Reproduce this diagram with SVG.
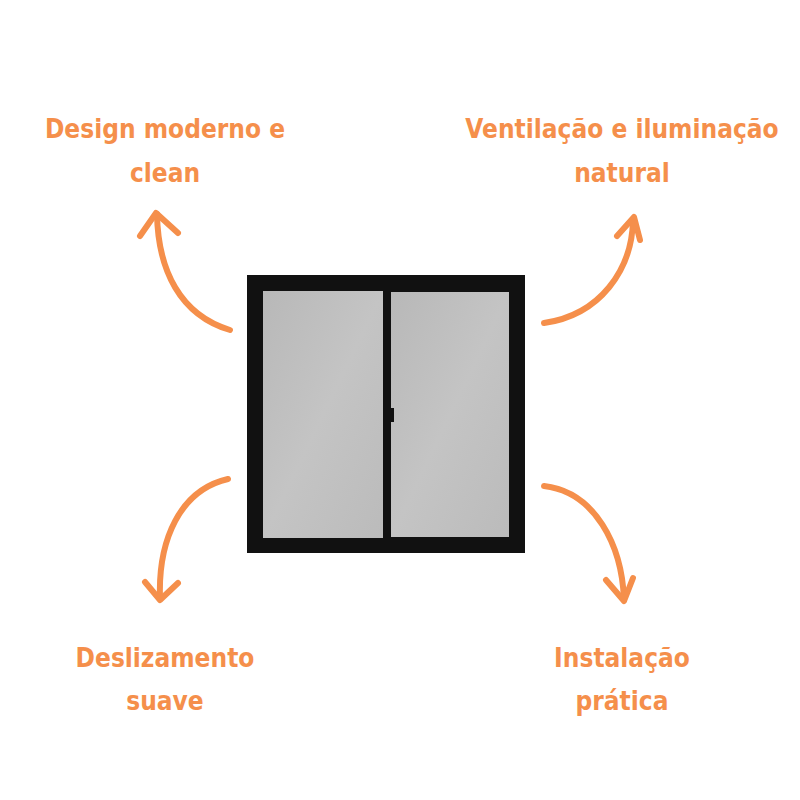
<svg xmlns="http://www.w3.org/2000/svg" width="800" height="800" viewBox="0 0 800 800">
<defs>
<style>
.t{font-family:"DejaVu Sans Condensed","DejaVu Sans",sans-serif;font-weight:bold;font-stretch:condensed;font-size:26px;fill:#F58F4B;text-anchor:middle}
.a{fill:none;stroke:#F58F4B;stroke-width:6;stroke-linecap:round;stroke-linejoin:round}
.g{fill:#BDBDBD}
</style>
<linearGradient id="gl" x1="0" y1="0" x2="1" y2="1"><stop offset="0" stop-color="#B8B8B8"/><stop offset="0.5" stop-color="#C4C4C4"/><stop offset="1" stop-color="#BBBBBB"/></linearGradient>
</defs>
<rect width="800" height="800" fill="#fff"/>
<g id="window">
<rect x="247" y="275" width="278" height="278" fill="#111"/>
<rect x="263" y="291" width="120" height="247" fill="url(#gl)"/>
<rect x="391" y="292" width="118" height="245" fill="url(#gl)"/>
<rect x="388" y="408" width="6" height="14" fill="#111"/>
</g>
<g id="connectors">
<path class="a" d="M230 330 C180 315 158 270 157 214"/>
<path class="a" d="M140 236 L156 213 L178 233"/>
<path class="a" d="M544 323 C600 315 632 270 633 220"/>
<path class="a" d="M617 236 L634 217 L640 240"/>
<path class="a" d="M228 479 C180 490 158 540 160 598"/>
<path class="a" d="M145 582 L160 600 L178 583"/>
<path class="a" d="M544 486 C595 492 622 545 624 600"/>
<path class="a" d="M606 580 L624 601 L633 578"/>
</g>
<g id="n1"><text class="t" x="165" y="138">Design moderno e</text><text class="t" x="165" y="182">clean</text></g>
<g id="n2"><text class="t" x="622" y="138">Ventilação e  iluminação</text><text class="t" x="622" y="182">natural</text></g>
<g id="n3"><text class="t" x="165" y="667">Deslizamento</text><text class="t" x="165" y="710">suave</text></g>
<g id="n4"><text class="t" x="622" y="667">Instalação</text><text class="t" x="622" y="710">prática</text></g>
</svg>
